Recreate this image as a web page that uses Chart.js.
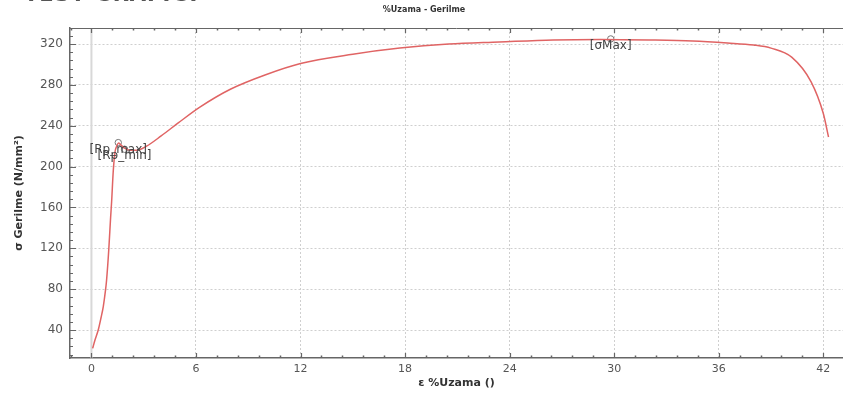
<!DOCTYPE html>
<html>
<head>
<meta charset="utf-8">
<script src="https://cdn.jsdelivr.net/npm/chart.js@4/dist/chart.umd.min.js"></script>
<style>
  html, body { margin: 0; padding: 0; background: #fff; overflow: hidden; }
  #wrap { position: relative; width: 843px; height: 394px; overflow: hidden; }
  #hdr { position: absolute; left: 24px; top: -18px; font: bold 21px "DejaVu Sans", sans-serif; color: #555; letter-spacing: 1px; white-space: nowrap; line-height: 25px; }
  canvas { position: absolute; left: 0; top: 0; }
</style>
</head>
<body>
<div id="wrap">
  <canvas id="c" width="848" height="394"></canvas>
  <div id="hdr">TEST GRAFİĞİ</div>
</div>
<script>
// ---- data ----
const strainX = [0.07, 0.2, 0.39, 0.55, 0.68, 0.8, 0.87, 1.0, 1.1, 1.16, 1.25, 1.35, 1.45, 1.55, 1.7, 1.9, 2.2, 2.6, 3.16, 4.0, 5.0, 6.2, 8.0, 10.0, 12.0, 15.0, 17.7, 20.5, 23.4, 26.5, 29.2, 32.0, 34.5, 36.5, 38.0, 39.0, 40.2, 41.3, 42.0, 42.3];
const stressY = [22, 30, 40, 52, 63, 78, 89, 120, 150, 166, 195, 214, 220, 223, 221, 218, 216, 216, 220, 230, 243, 258, 276, 290, 301, 310, 316, 320, 322, 324, 324.5, 324, 323, 321, 319, 316, 307, 283, 252, 229];
const markerNames = ["[Rp_max]", "[Rp_min]", "[σMax]"];
const markerX = [1.54, 1.9, 29.8];
const markerY = [223.5, 217, 325];
const xTickLabels = [0, 6, 12, 18, 24, 30, 36, 42];
const yTickLabels = [40, 80, 120, 160, 200, 240, 280, 320];
const chartTitle = "%Uzama - Gerilme";
const xAxisTitle = "ε %Uzama ()";
const yAxisTitle = "σ Gerilme (N/mm²)";

const curvePts = strainX.map((x, i) => ({ x: x, y: stressY[i] }));
const markerPts = markerX.map((x, i) => ({ x: x, y: markerY[i] }));

const axisColor = '#666';
const gridColor = '#cfcfcf';

const decorPlugin = {
  id: 'decor',
  beforeDatasetsDraw(chart) {
    const { ctx, chartArea: a, scales: { x } } = chart;
    ctx.save();
    const x0 = x.getPixelForValue(0);
    ctx.strokeStyle = '#d8d8d8';
    ctx.lineWidth = 2;
    ctx.beginPath(); ctx.moveTo(x0, a.top); ctx.lineTo(x0, a.bottom); ctx.stroke();
    ctx.restore();
  },
  afterDatasetsDraw(chart) {
    const { ctx, chartArea: a, scales: { x, y } } = chart;
    ctx.save();
    ctx.strokeStyle = axisColor;
    ctx.lineWidth = 1;
    ctx.beginPath(); ctx.moveTo(a.left, a.top + 0.5); ctx.lineTo(a.right, a.top + 0.5); ctx.stroke();
    for (let v = -1.2; v <= x.max; v += 1.2) {
      const vv = Math.round(v * 10) / 10;
      if (vv < x.min) continue;
      const px = Math.round(x.getPixelForValue(vv)) + 0.5;
      const major = Math.abs(vv / 6 - Math.round(vv / 6)) < 1e-6;
      const len = major ? 5 : 2.5;
      ctx.lineWidth = major ? 1.2 : 1.5;
      ctx.beginPath();
      ctx.moveTo(px, a.bottom); ctx.lineTo(px, a.bottom - len);
      ctx.moveTo(px, a.top); ctx.lineTo(px, a.top + len);
      ctx.stroke();
    }
    for (let v = 16; v <= y.max; v += 8) {
      const py = Math.round(y.getPixelForValue(v)) + 0.5;
      const major = v % 40 === 0;
      const len = major ? 6 : 3;
      ctx.lineWidth = 1;
      ctx.beginPath(); ctx.moveTo(a.left, py); ctx.lineTo(a.left + len, py); ctx.stroke();
    }
    ctx.fillStyle = '#444';
    ctx.font = '12px "DejaVu Sans", sans-serif';
    ctx.textAlign = 'center';
    ctx.textBaseline = 'middle';
    markerNames.forEach((n, i) => {
      const px = x.getPixelForValue(markerX[i]);
      const py = y.getPixelForValue(markerY[i]);
      ctx.fillText(n, px, py + 7);
    });
    ctx.restore();
  }
};

new Chart(document.getElementById('c'), {
  type: 'scatter',
  data: {
    datasets: [
      {
        data: curvePts, showLine: true, borderColor: '#e06464', borderWidth: 1.5,
        pointRadius: 0, cubicInterpolationMode: 'monotone', fill: false
      },
      {
        data: markerPts, showLine: false, pointRadius: 3.2, pointStyle: 'circle',
        borderColor: '#777', backgroundColor: 'rgba(255,255,255,0)', borderWidth: 1
      }
    ]
  },
  plugins: [decorPlugin],
  options: {
    responsive: false,
    animation: false,
    events: [],
    layout: { padding: { left: 0, right: 0, top: 0, bottom: 0 } },
    plugins: {
      legend: { display: false },
      tooltip: { enabled: false },
      title: {
        display: true, text: chartTitle, color: '#333',
        font: { family: '"DejaVu Sans", sans-serif', size: 8, weight: 'bold' },
        padding: { top: 5, bottom: 13.4 }
      }
    },
    scales: {
      x: {
        type: 'linear', min: -1.23, max: 43.13,
        afterBuildTicks: s => { s.ticks = xTickLabels.map(v => ({ value: v })); },
        afterFit: s => { s.height = 36; },
        grid: { color: gridColor, lineWidth: 1, drawTicks: false },
        border: { color: axisColor, width: 1.5, dash: [2, 2] },
        ticks: { color: '#555', padding: 5, font: { family: '"DejaVu Sans", sans-serif', size: 11 } },
        title: { display: true, text: xAxisTitle, color: '#333', padding: { top: 0, bottom: 4 },
                 font: { family: '"DejaVu Sans", sans-serif', size: 11, weight: 'bold' } }
      },
      y: {
        type: 'linear', min: 12.6, max: 335.7,
        afterBuildTicks: s => { s.ticks = yTickLabels.map(v => ({ value: v })); },
        afterFit: s => { s.width = 70; },
        grid: { color: gridColor, lineWidth: 1, drawTicks: false },
        border: { color: axisColor, width: 1.5, dash: [2, 2] },
        ticks: { color: '#555', padding: 7, font: { family: '"DejaVu Sans", sans-serif', size: 12 } },
        title: { display: true, text: yAxisTitle, color: '#333', padding: { top: 13, bottom: 0 },
                 font: { family: '"DejaVu Sans", sans-serif', size: 11, weight: 'bold' } }
      }
    }
  }
});
</script>
</body>
</html>
